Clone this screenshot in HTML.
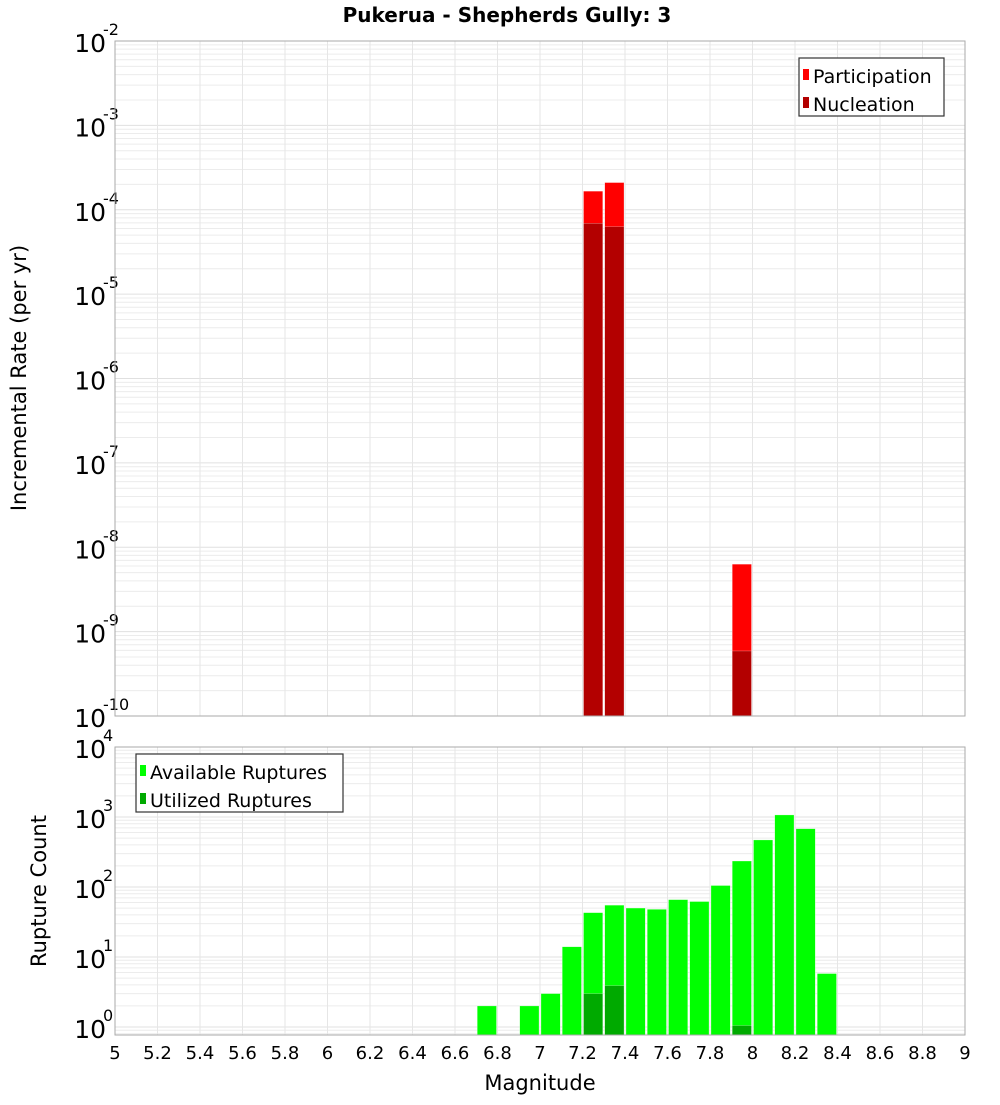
<!DOCTYPE html>
<html><head><meta charset="utf-8"><style>
body{margin:0;background:#fff;font-family:"Liberation Sans","DejaVu Sans",sans-serif}
svg text{font-family:"DejaVu Sans","Liberation Sans",sans-serif}
</style></head><body>
<svg id="chart" width="1000" height="1100" xmlns="http://www.w3.org/2000/svg">
<rect width="1000" height="1100" fill="#fff"/>
<text x="507" y="22" font-size="20" font-weight="bold" text-anchor="middle">Pukerua - Shepherds Gully: 3</text>
<g id="top"></g><g id="bot"></g>
<text x="540" y="1090" font-size="21" text-anchor="middle">Magnitude</text>
<text transform="translate(26,378) rotate(-90)" font-size="21" text-anchor="middle">Incremental Rate (per yr)</text>
<text transform="translate(46,891) rotate(-90)" font-size="21" text-anchor="middle">Rupture Count</text>
</svg>
<script>
// Data
const rateMags = [7.25, 7.35, 7.95];
const participation = [1.66e-4, 2.1e-4, 6.3e-9];
const nucleation = [6.9e-5, 6.3e-5, 5.9e-10];
const countMags = [6.75, 6.95, 7.05, 7.15, 7.25, 7.35, 7.45, 7.55, 7.65, 7.75, 7.85, 7.95, 8.05, 8.15, 8.25, 8.35];
const available = [2, 2, 3, 14, 43, 55, 50, 48, 66, 62, 105, 235, 470, 1070, 680, 5.8];
const utilMags = [7.25, 7.35, 7.95];
const utilized = [3, 3.9, 1.05];
const xTicks = [5,5.2,5.4,5.6,5.8,6,6.2,6.4,6.6,6.8,7,7.2,7.4,7.6,7.8,8,8.2,8.4,8.6,8.8,9];
const xTickLabels = ["5","5.2","5.4","5.6","5.8","6","6.2","6.4","6.6","6.8","7","7.2","7.4","7.6","7.8","8","8.2","8.4","8.6","8.8","9"];
const topDecades = [-10,-9,-8,-7,-6,-5,-4,-3,-2];
const botDecades = [0,1,2,3,4];

const NS="http://www.w3.org/2000/svg";
const X0=115,X1=965;
const xs=m=>X0+(m-5)/4*(X1-X0);
function mk(tag,attrs,parent){const e=document.createElementNS(NS,tag);for(const k in attrs)e.setAttribute(k,attrs[k]);parent.appendChild(e);return e;}

function panel(g,top,bot,lmin,lmax,decades,nameP){
  const ys=v=>bot-(Math.log10(v)-lmin)/(lmax-lmin)*(bot-top);
  // grid
  for(let d=Math.floor(lmin);d<lmax;d++){for(let k=1;k<10;k++){const v=k*Math.pow(10,d);const y=ys(v);if(y<top-0.1||y>bot+0.1)continue;
    const l=mk('line',{x1:X0,x2:X1,y1:y,y2:y,stroke:k==1?'#e0e0e0':'#ececec','stroke-width':1},g);
    
    }}
  xTicks.forEach(t=>{const x=xs(t);const l=mk('line',{x1:x,x2:x,y1:top,y2:bot,stroke:'#e6e6e6'},g);
    
    });
  decades.forEach(d=>{const y=ys(Math.pow(10,d));
    const t=mk('text',{x:106,y:y+11,'font-size':25,'text-anchor':'end'},g);
    
    
    t.textContent='10';
    const s=mk('text',{x:103,y:y-6,'font-size':16},g);
    
    
    s.textContent=String(d);});
  return ys;
}
function bar(g,m,v,ys,bot,fill,name){
  const x=xs(m-0.05)+1,w=xs(m+0.05)-xs(m-0.05)-2;const y=ys(v);
  const r=mk('rect',{x:x,y:y,width:w,height:bot-y,fill:fill,stroke:'#fff','stroke-opacity':0.5,'stroke-width':0.5},g);
  
  
}
function legend(g,x,y,w,items,name){
  const b=mk('rect',{x:x,y:y,width:w,height:58,fill:'#fff',stroke:'#333','stroke-width':1.2},g);
  
  
  items.forEach((it,i)=>{const yy=y+18+i*28;
    const sw=mk('rect',{x:x+4,y:yy-7,width:6,height:11,fill:it[1]},g);
    
    
    const t=mk('text',{x:x+14,y:yy+7,'font-size':19},g);
    
    
    t.textContent=it[0];});
}
// top
const gt=document.getElementById('top');
const TT=41,TB=716;
const yt=panel(gt,TT,TB,-10,-2,topDecades,'top');
rateMags.forEach((m,i)=>bar(gt,m,participation[i],yt,TB,'#ff0000','participation-bar'));
rateMags.forEach((m,i)=>bar(gt,m,nucleation[i],yt,TB,'#b30000','nucleation-bar'));
const f1=mk('rect',{x:X0,y:TT,width:X1-X0,height:TB-TT,fill:'none',stroke:'#aaa'},gt);


legend(gt,799,58,145,[['Participation','#ff0000'],['Nucleation','#b30000']],'top-legend');
// bottom
const gb=document.getElementById('bot');
const BT=747,BB=1035;
const lminB=4-(BB-BT)/70;
const yb=panel(gb,BT,BB,lminB,4,botDecades,'bottom');
countMags.forEach((m,i)=>bar(gb,m,available[i],yb,BB,'#00ff00','available-bar'));
utilMags.forEach((m,i)=>bar(gb,m,utilized[i],yb,BB,'#00aa00','utilized-bar'));
const f2=mk('rect',{x:X0,y:BT,width:X1-X0,height:BB-BT,fill:'none',stroke:'#aaa'},gb);


legend(gb,136,754,207,[['Available Ruptures','#00ff00'],['Utilized Ruptures','#00aa00']],'bottom-legend');
xTicks.forEach((t,i)=>{const e=mk('text',{x:xs(t),y:1059,'font-size':18,'text-anchor':'middle'},gb);
  
  
  e.textContent=xTickLabels[i];});
</script>
</body></html>
